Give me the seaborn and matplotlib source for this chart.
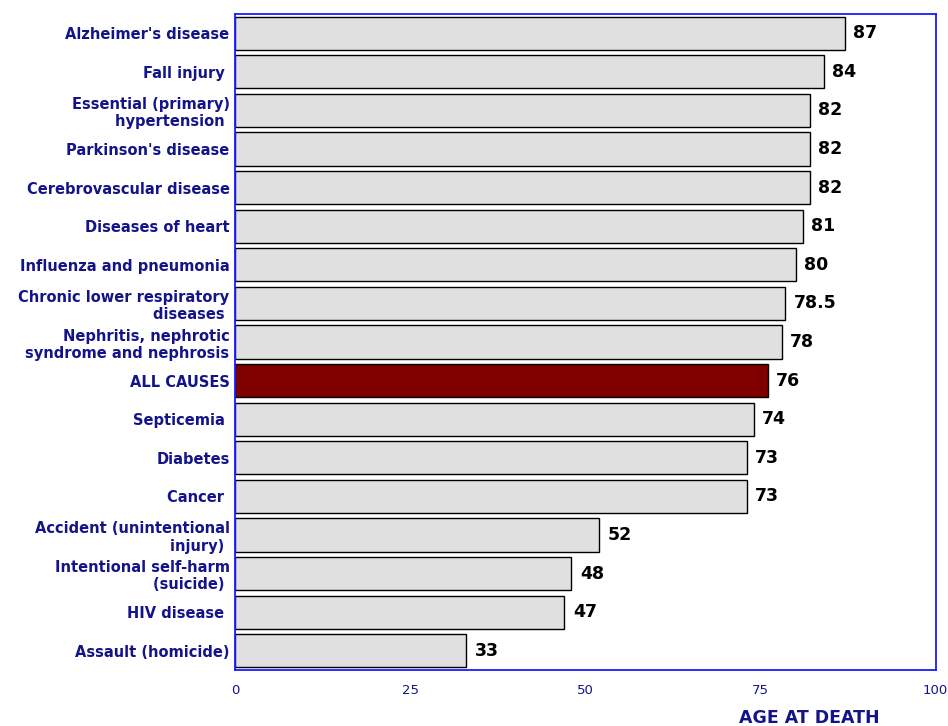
import numpy as np
import matplotlib
matplotlib.use('Agg')
import matplotlib.pyplot as plt
import seaborn as sns

#Data
causes = ["Alzheimer's disease", "Fall injury ", "Essential (primary)\nhypertension ",
          "Parkinson's disease", "Cerebrovascular disease", "Diseases of heart",
          "Influenza and pneumonia", "Chronic lower respiratory\ndiseases ",
          "Nephritis, nephrotic\nsyndrome and nephrosis", "ALL CAUSES", "Septicemia ",
          "Diabetes", "Cancer ", "Accident (unintentional\ninjury) ",
          "Intentional self-harm\n(suicide) ", "HIV disease ", "Assault (homicide)"]
ages = [87, 84, 82, 82, 82, 81, 80, 78.5, 78, 76, 74, 73, 73, 52, 48, 47, 33]
age_labels = ["87", "84", "82", "82", "82", "81", "80", "78.5", "78", "76",
              "74", "73", "73", "52", "48", "47", "33"]
highlight = "ALL CAUSES"

sns.set_style('white')
plt.rcParams['font.family'] = ['DejaVu Sans']

navy = '#14148a'
colors = ['#800000' if c == highlight else '#e0e0e0' for c in causes]

fig = plt.figure(figsize=(9.48, 7.26), dpi=100)
ax = fig.add_axes([0.248, 0.0771, 0.739, 0.9036])

sns.barplot(x=ages, y=causes, hue=causes, palette=colors, legend=False,
            orient='h', width=0.86, edgecolor='black', linewidth=1.0,
            saturation=1, ax=ax)

#Value labels next to each bar
for cont in ax.containers:
    for bar in cont:
        i = int(round(bar.get_y() + bar.get_height() / 2))
        ax.text(bar.get_width() + 1.2, i, age_labels[i], va='center', ha='left',
                fontsize=12.5, fontweight='bold', color='black')

ax.set_xlim(0, 100)
ax.set_ylim(16.5, -0.5)
ax.set_xticks([0, 25, 50, 75, 100])
ax.tick_params(axis='x', length=0, pad=10, labelsize=9.5, labelcolor=navy)
ax.tick_params(axis='y', length=0, pad=4, labelsize=10.5, labelcolor=navy)
for lab in ax.get_yticklabels():
    lab.set_fontweight('bold')
    lab.set_multialignment('right')

for sp in ax.spines.values():
    sp.set_color('#1a1aff')
    sp.set_linewidth(1.3)
    sp.set_visible(True)

ax.set_ylabel('')
ax.set_xlabel('AGE AT DEATH', fontsize=12.5, fontweight='bold', color=navy)
ax.xaxis.set_label_coords(0.82, -0.06)

fig.savefig('out.png', dpi=100)
